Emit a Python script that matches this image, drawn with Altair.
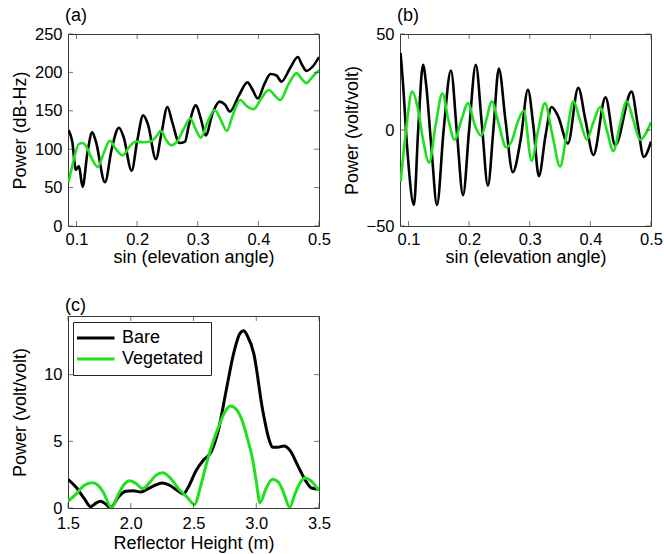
import altair as alt
import pandas as pd

# ---------------- data ----------------
# (a) power in dB-Hz vs sin(elevation angle)
a_bare_x = [0.087, 0.093, 0.099, 0.104, 0.110, 0.118, 0.126, 0.132, 0.147, 0.158, 0.170, 0.178,
            0.191, 0.200, 0.210, 0.218, 0.231, 0.240, 0.250, 0.258, 0.270, 0.279, 0.285, 0.297,
            0.305, 0.313, 0.325, 0.336, 0.345, 0.353, 0.368, 0.382, 0.390, 0.399, 0.410, 0.420,
            0.430, 0.438, 0.452, 0.465, 0.472, 0.479, 0.490, 0.500]
a_bare_y = [125, 110, 73, 78, 51, 95, 122, 110, 57, 100, 128, 115,
            72, 110, 144, 132, 87, 120, 155, 135, 108, 110, 130, 157,
            140, 118, 148, 162, 158, 149, 170, 187, 178, 166, 185, 198,
            196, 188, 205, 220, 210, 202, 208, 220]
a_veg_x = [0.087, 0.095, 0.104, 0.110, 0.116, 0.125, 0.135, 0.145, 0.155, 0.165, 0.176, 0.188,
           0.198, 0.210, 0.222, 0.232, 0.239, 0.248, 0.256, 0.266, 0.276, 0.288, 0.296, 0.305,
           0.316, 0.328, 0.338, 0.348, 0.358, 0.370, 0.381, 0.392, 0.404, 0.417, 0.427, 0.436,
           0.450, 0.463, 0.471, 0.479, 0.490, 0.500]
a_veg_y = [57, 85, 107, 108, 104, 88, 77, 95, 111, 100, 92, 104,
           110, 109, 110, 117, 124, 112, 105, 110, 125, 140, 127, 115,
           135, 151, 138, 124, 145, 164, 156, 152, 165, 177, 170, 164,
           185, 199, 192, 186, 195, 203]

# (b) power in volt/volt vs sin(elevation angle)
b_bare_x = [0.087, 0.091, 0.098, 0.109, 0.116, 0.124, 0.129, 0.138, 0.147, 0.158, 0.170, 0.180,
            0.190, 0.200, 0.211, 0.221, 0.231, 0.240, 0.249, 0.260, 0.272, 0.285, 0.297, 0.306,
            0.315, 0.326, 0.336, 0.347, 0.363, 0.380, 0.392, 0.405, 0.425, 0.441, 0.468, 0.478,
            0.488, 0.500]
b_bare_y = [40, 24, -10, -39, 0, 34, 24, -10, -39, 0, 31, -2,
            -34, 0, 34, 3, -29, 0, 32, 5, -22, -5, 21, 2,
            -24, -3, 12, 7, -7, 22, 5, -13, 17, -8, 20, 3,
            -14, -6]
b_veg_x = [0.087, 0.096, 0.106, 0.115, 0.124, 0.134, 0.145, 0.156, 0.166, 0.176, 0.188, 0.198,
           0.210, 0.220, 0.229, 0.237, 0.249, 0.261, 0.270, 0.280, 0.290, 0.303, 0.314, 0.325,
           0.337, 0.350, 0.361, 0.372, 0.383, 0.394, 0.405, 0.416, 0.427, 0.438, 0.449, 0.460,
           0.471, 0.482, 0.500]
b_veg_y = [-27, 0, 20, 12, -5, -17, 3, 19, 5, -5, 6, 14,
           2, -3, 6, 15, 3, -9, -6, 4, 10, -16, 0, 14,
           -2, -19, -2, 15, 5, -5, 4, 12, 0, -11, 3, 15,
           5, -5, 4]

# (c) power in volt/volt vs reflector height (m)
c_bare_x = [1.50, 1.57, 1.63, 1.68, 1.72, 1.76, 1.80, 1.84, 1.90, 1.96, 2.02, 2.08,
            2.16, 2.25, 2.32, 2.38, 2.42, 2.46, 2.52, 2.58, 2.64, 2.70, 2.76, 2.82,
            2.87, 2.90, 2.93, 2.98, 3.05, 3.10, 3.13, 3.17, 3.22, 3.27, 3.33, 3.39,
            3.44, 3.50]
c_bare_y = [2.15, 1.5, 0.7, 0.1, 0.35, 0.5, 0.3, 0.02, 0.8, 1.25, 1.3, 1.2,
            1.55, 1.88, 1.65, 1.25, 1.05, 1.6, 2.8, 3.6, 4.2, 5.9, 8.8, 11.6,
            13.1, 13.3, 12.9, 11.6, 7.4, 5.2, 4.55, 4.55, 4.65, 4.3, 3.2, 2.1,
            1.5, 1.4]
c_veg_x = [1.50, 1.57, 1.63, 1.695, 1.74, 1.78, 1.847, 1.90, 1.95, 1.99, 2.04, 2.095,
           2.15, 2.20, 2.255, 2.31, 2.39, 2.45, 2.51, 2.55, 2.60, 2.65, 2.70, 2.75,
           2.795, 2.84, 2.89, 2.93, 2.97, 3.00, 3.03, 3.08, 3.13, 3.18, 3.22, 3.266,
           3.31, 3.35, 3.39, 3.44, 3.50]
c_veg_y = [0.5, 1.1, 1.7, 1.9, 1.7, 1.2, 0.02, 1.0, 1.8, 2.05, 1.85, 1.45,
           1.9, 2.45, 2.65, 2.3, 1.35, 0.8, 0.25, 1.4, 3.2, 4.8, 6.1, 7.2,
           7.65, 7.4, 6.5, 5.2, 3.7, 2.0, 0.4, 1.5, 2.15, 1.9, 1.1, 0.05,
           1.1, 1.9, 2.25, 2.0, 1.3]

series_names = ["Bare", "Vegetated"]
x_ticks_ab = [0.1, 0.2, 0.3, 0.4, 0.5]
y_ticks_a = [0, 50, 100, 150, 200, 250]
y_ticks_b = [-50, 0, 50]
x_ticks_c = [1.5, 2, 2.5, 3, 3.5]
y_ticks_c = [0, 5, 10]

# ---------------- styling ----------------
FONT = "Liberation Sans"
BLACK = "#000000"
GREEN = "#1fe01f"
FRAME = "#3a3a3a"
W, H = 251, 192


def long_df(xb, yb, xv, yv):
    return pd.DataFrame({
        "x": xb + xv,
        "y": yb + yv,
        "series": [series_names[0]] * len(xb) + [series_names[1]] * len(xv),
    })


def panel(df, xdom, ydom, xticks, yticks, xtitle, ytitle, label, interp, sw, legend,
          xlpad, xtpad, ytpad):
    xs = alt.Scale(domain=xdom, nice=False, zero=False)
    ys = alt.Scale(domain=ydom, nice=False, zero=False)
    xax = alt.Axis(values=xticks, title=xtitle, grid=False, ticks=False,
                   domain=False, labelPadding=xlpad, titlePadding=xtpad,
                   labelOverlap=False, labelFlush=False)
    yax = alt.Axis(values=yticks, title=ytitle, grid=False, ticks=False,
                   domain=False, labelPadding=6, titlePadding=ytpad,
                   labelOverlap=False, labelFlush=False)
    color = alt.Color("series:N",
                      scale=alt.Scale(domain=series_names, range=[BLACK, GREEN]),
                      legend=legend)
    lines = alt.Chart(df).mark_line(strokeWidth=sw, interpolate=interp, clip=True).encode(
        x=alt.X("x:Q", scale=xs, axis=xax),
        y=alt.Y("y:Q", scale=ys, axis=yax),
        color=color,
    )
    xt = pd.DataFrame({"x": xticks})
    yt = pd.DataFrame({"y": yticks})
    tk = dict(color=FRAME, thickness=1, size=5)
    layers = [lines]
    for yy in (H - 2.5, 2.5):
        layers.append(alt.Chart(xt).mark_tick(orient="vertical", **tk).encode(
            x=alt.X("x:Q", scale=xs, axis=xax), y=alt.value(yy)))
    for xx in (2.5, W - 2.5):
        layers.append(alt.Chart(yt).mark_tick(orient="horizontal", **tk).encode(
            y=alt.Y("y:Q", scale=ys, axis=yax), x=alt.value(xx)))
    return alt.layer(*layers).properties(
        width=W, height=H,
        title=alt.TitleParams(label, anchor="start", frame="group", fontSize=18, font=FONT,
                              fontWeight="normal", color=BLACK, offset=1, dx=-3),
    )


pa = panel(long_df(a_bare_x, a_bare_y, a_veg_x, a_veg_y), [0.086, 0.5], [0, 250],
           x_ticks_ab, y_ticks_a, "sin (elevation angle)", "Power (dB-Hz)", "(a)",
           "monotone", 2.6, None, 5, 1, 5)
pb = panel(long_df(b_bare_x, b_bare_y, b_veg_x, b_veg_y), [0.086, 0.5], [-50, 50],
           x_ticks_ab, y_ticks_b, "sin (elevation angle)", "Power (volt/volt)", "(b)",
           "monotone", 2.6, None, 5, 1, 5)
legend_c = alt.Legend(orient="none", legendX=5, legendY=6, title=None,
                      strokeColor="#222222", fillColor="white", padding=7,
                      symbolType="M-1.6,0L3.4,0", symbolStrokeWidth=3, symbolSize=225,
                      labelFontSize=18, labelFont=FONT, labelColor=BLACK,
                      rowPadding=3, labelOffset=24)
pc = panel(long_df(c_bare_x, c_bare_y, c_veg_x, c_veg_y), [1.5, 3.5], [0, 14.4],
           x_ticks_c, y_ticks_c, "Reflector Height (m)", "Power (volt/volt)", "(c)",
           "monotone", 3, legend_c, 7, 3, 14)

chart = alt.concat(pa, pb, pc, columns=2, spacing={"row": 90, "column": 81},
                   bounds="flush").resolve_scale(
    color="independent").resolve_legend(color="independent").properties(
    padding={"left": 10, "top": 6, "right": 0, "bottom": 0},
    background="white",
).configure_view(
    stroke=FRAME, strokeWidth=1
).configure_axis(
    labelFont=FONT, labelFontSize=16.5, labelColor=BLACK,
    titleFont=FONT, titleFontSize=18, titleFontWeight="normal", titleColor=BLACK,
)

chart.save("out.html", embed_options={"renderer": "svg", "actions": False})
